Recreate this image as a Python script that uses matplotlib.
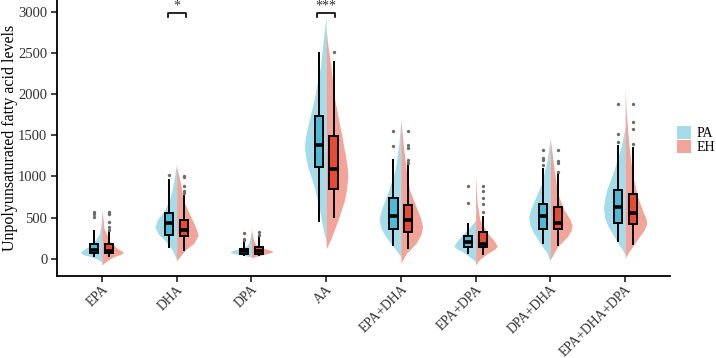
import matplotlib.pyplot as plt
from matplotlib.patches import Patch

plt.rcParams['font.family'] = ['Liberation Serif', 'DejaVu Serif']

categories = ['EPA', 'DHA', 'DPA', 'AA', 'EPA+DHA', 'EPA+DPA', 'DPA+DHA', 'EPA+DHA+DPA']
groups = ['PA', 'EH']

# box stats: (whisker low, q1, median, q3, whisker high)
pa_stats = [(36, 70, 110, 178, 337), (138, 285, 430, 558, 956), (45, 57, 88, 120, 223),
            (462, 1118, 1382, 1734, 2503), (166, 357, 519, 733, 1199), (66, 138, 207, 276, 418),
            (195, 357, 519, 661, 1086), (219, 430, 624, 835, 1369)]
eh_stats = [(36, 66, 95, 178, 337), (106, 270, 349, 470, 765), (45, 57, 94, 138, 260),
            (503, 847, 1086, 1495, 2393), (126, 328, 470, 652, 1159), (57, 138, 179, 320, 510),
            (166, 357, 430, 624, 1037), (179, 422, 551, 786, 1341)]
pa_out = [[510, 540, 571], [1012], [232, 240, 316], [], [1369, 1555], [673, 883],
          [1138, 1199, 1227, 1321], [1414, 1515, 1880]]
eh_out = [[349, 389, 450, 539, 571], [795, 826, 883, 990, 1005], [290, 320], [2508],
          [1167, 1199, 1341, 1381, 1555], [571, 661, 741, 823, 883], [1057, 1167, 1187, 1321],
          [1390, 1576, 1657, 1880]]

# half violin outlines: levels and relative width
pa_vy = [[-40, 0, 24, 50, 78, 110, 146, 207, 300, 400, 530],
         [-10, 106, 227, 300, 380, 470, 590, 713, 820, 920, 1040, 1160],
         [20, 35, 50, 70, 85, 100, 120, 160, 220, 300, 340],
         [200, 389, 632, 875, 1118, 1240, 1361, 1480, 1604, 1928, 2333, 2739, 2950],
         [24, 146, 267, 370, 470, 550, 632, 835, 1078, 1402, 1690],
         [-36, 17, 85, 120, 154, 200, 267, 389, 470],
         [-36, 66, 187, 308, 410, 510, 610, 713, 916, 1199, 1480],
         [45, 106, 227, 389, 500, 612, 720, 835, 1078, 1361, 1600]]
pa_vw = [[0, 0.25, 0.5, 0.85, 1.0, 0.85, 0.63, 0.35, 0.12, 0.05, 0],
         [0, 0.2, 0.55, 0.85, 1.0, 0.9, 0.55, 0.33, 0.22, 0.15, 0.07, 0],
         [0, 0.25, 0.55, 0.9, 1.0, 0.85, 0.55, 0.2, 0.08, 0.03, 0],
         [0, 0.16, 0.33, 0.55, 0.85, 0.95, 1.0, 0.95, 0.85, 0.56, 0.26, 0.1, 0],
         [0, 0.34, 0.7, 0.92, 1.0, 0.95, 0.85, 0.56, 0.26, 0.09, 0],
         [0, 0.25, 0.6, 0.88, 1.0, 0.9, 0.7, 0.25, 0],
         [0, 0.15, 0.47, 0.76, 0.95, 1.0, 0.9, 0.73, 0.4, 0.15, 0],
         [0, 0.12, 0.41, 0.78, 0.95, 1.0, 0.95, 0.85, 0.51, 0.19, 0]]
eh_vy = [[-77, -36, 0, 24, 50, 78, 100, 126, 207, 369, 612],
         [-30, 8, 106, 190, 288, 400, 510, 713, 920, 1118],
         [10, 30, 50, 75, 90, 110, 130, 170, 230, 300, 370],
         [120, 227, 470, 713, 860, 996, 1120, 1240, 1524, 1928, 2333, 2550, 2779],
         [-56, 66, 187, 290, 389, 500, 632, 835, 1078, 1402, 1705],
         [-80, -16, 66, 110, 154, 220, 308, 470, 673, 996],
         [-10, 24, 146, 267, 340, 409, 480, 592, 795, 1078, 1442],
         [-16, 24, 146, 267, 350, 430, 500, 551, 753, 1037, 1361, 1766, 2060]]
eh_vw = [[0, 0.18, 0.4, 0.55, 0.85, 1.0, 0.88, 0.7, 0.37, 0.1, 0],
         [0, 0.1, 0.4, 0.8, 1.0, 0.85, 0.65, 0.3, 0.18, 0],
         [0, 0.25, 0.55, 0.9, 1.0, 0.8, 0.5, 0.2, 0.1, 0.04, 0],
         [0, 0.2, 0.55, 0.85, 0.95, 1.0, 0.97, 0.9, 0.7, 0.4, 0.22, 0.1, 0],
         [0, 0.25, 0.7, 0.92, 1.0, 0.9, 0.7, 0.4, 0.25, 0.1, 0],
         [0, 0.15, 0.55, 0.85, 1.0, 0.85, 0.55, 0.2, 0.07, 0],
         [0, 0.07, 0.33, 0.78, 0.95, 1.0, 0.9, 0.63, 0.33, 0.18, 0],
         [0, 0.03, 0.33, 0.65, 0.88, 1.0, 0.95, 0.85, 0.57, 0.33, 0.18, 0.05, 0]]

signif = {'DHA': '*', 'AA': '***'}

PA_COL = '#4DBBD5'
EH_COL = '#E64B35'
HALF = 0.29

fig = plt.figure(figsize=(7.16, 3.58), dpi=100)
ax = fig.add_axes([57 / 716, 82 / 358, 613 / 716, 276 / 358])

pos = list(range(1, len(categories) + 1))
for i, p in enumerate(pos):
    ax.fill_betweenx(pa_vy[i], [p - HALF * w for w in pa_vw[i]], p,
                     color=PA_COL, alpha=0.5, lw=0, zorder=1)
    ax.fill_betweenx(eh_vy[i], p, [p + HALF * w for w in eh_vw[i]],
                     color=EH_COL, alpha=0.5, lw=0, zorder=1)


def make_bx(stats, outs):
    res = []
    for s, o in zip(stats, outs):
        res.append({'whislo': s[0], 'q1': s[1], 'med': s[2], 'q3': s[3],
                    'whishi': s[4], 'fliers': o})
    return res


for stats, outs, off, col in [(pa_stats, pa_out, -0.1, PA_COL), (eh_stats, eh_out, 0.1, EH_COL)]:
    ax.bxp(make_bx(stats, outs), positions=[p + off for p in pos], widths=0.11,
           patch_artist=True, showcaps=False, manage_ticks=False,
           boxprops=dict(facecolor=col, edgecolor='black', linewidth=1.4),
           medianprops=dict(color='black', linewidth=2.6),
           whiskerprops=dict(color='black', linewidth=1.4),
           flierprops=dict(marker='o', markersize=2.4, markerfacecolor='#6b6b6b',
                           markeredgecolor='none'),
           zorder=3)

# significance brackets
for cat, lab in signif.items():
    p = categories.index(cat) + 1
    ax.plot([p - 0.12, p - 0.12, p + 0.12, p + 0.12], [2930, 2980, 2980, 2930],
            color='black', lw=1.2, zorder=4)
    ax.text(p, 2985, lab, ha='center', va='bottom', fontsize=10, color='#333333')

ax.set_xlim(0.4, 8.6)
ax.set_ylim(-210, 3142)
ax.set_yticks([0, 500, 1000, 1500, 2000, 2500, 3000])
ax.set_xticks(pos)
ax.set_xticklabels(categories, rotation=45, ha='right', rotation_mode='anchor')
ax.tick_params(length=4, width=1.3, labelcolor='#333333', color='#333333')
ax.tick_params(axis='y', labelsize=10.5, pad=3)
ax.tick_params(axis='x', labelsize=9.8, pad=1)
for s in ['top', 'right']:
    ax.spines[s].set_visible(False)
for s in ['left', 'bottom']:
    ax.spines[s].set_linewidth(1.3)
ax.set_ylabel('Unpolyunsaturated fatty acid levels', fontsize=11.5)
ax.yaxis.set_label_coords(-0.063, 0.5)

handles = [Patch(facecolor=PA_COL, alpha=0.5, lw=0), Patch(facecolor=EH_COL, alpha=0.5, lw=0)]
ax.legend(handles, groups, loc='center left', bbox_to_anchor=(1.011, 0.493), frameon=False,
          handlelength=1.0, handleheight=1.1, labelspacing=0.0, handletextpad=0.45,
          borderpad=0, borderaxespad=0, fontsize=10)

fig.savefig('out.png', dpi=100)
